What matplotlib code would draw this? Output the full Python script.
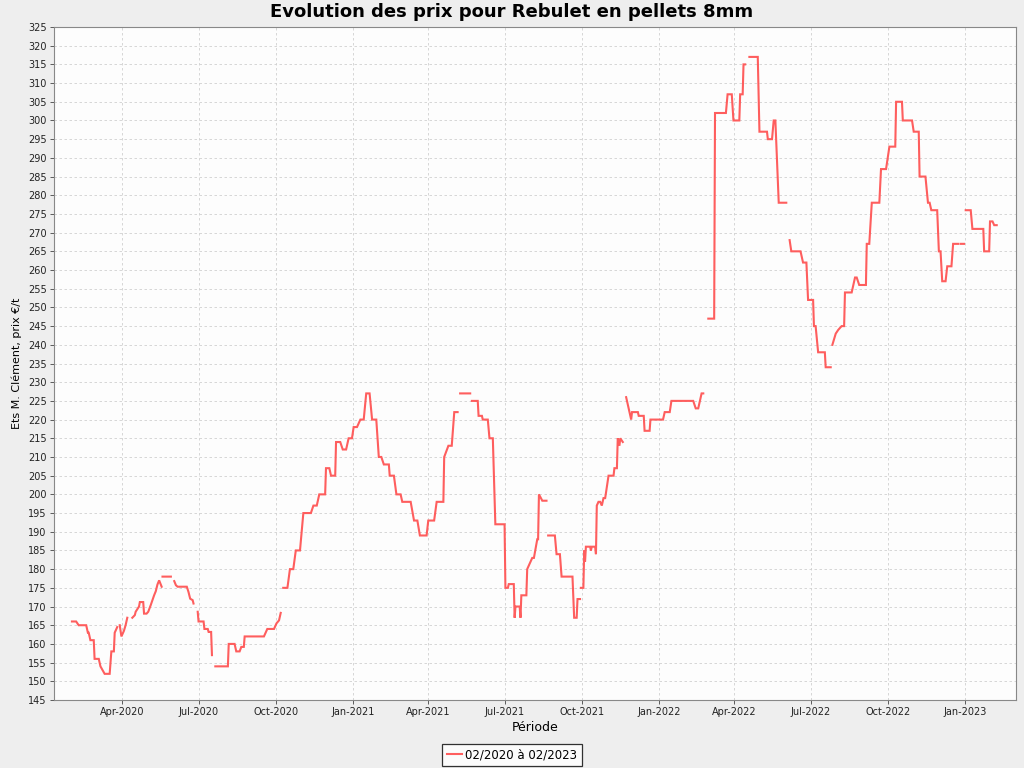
import numpy as np
import pandas as pd
import matplotlib
matplotlib.use("Agg")
import matplotlib.pyplot as plt
import matplotlib.dates as mdates

# None marks a gap in the series
dates = [
    "2020-02-01", "2020-02-06", "2020-02-09", "2020-02-18", "2020-02-20", "2020-02-21", "2020-02-23",
    "2020-02-27", "2020-02-28", "2020-03-04", "2020-03-06", "2020-03-11", "2020-03-17", "2020-03-19",
    "2020-03-22", "2020-03-23", "2020-03-26", None,
    "2020-03-29", "2020-03-31", "2020-04-03", "2020-04-05", "2020-04-07", None,
    "2020-04-13", "2020-04-16", "2020-04-17", "2020-04-21", "2020-04-22", "2020-04-26", "2020-04-27",
    "2020-04-30", "2020-05-02", "2020-05-05", "2020-05-07", "2020-05-09", "2020-05-11", "2020-05-13",
    "2020-05-15", "2020-05-18", None,
    "2020-05-19", "2020-05-29", None,
    "2020-06-02", "2020-06-04", "2020-06-06", "2020-06-17", "2020-06-19", "2020-06-21", "2020-06-24",
    "2020-06-25", None,
    "2020-06-30", "2020-07-01", "2020-07-07", "2020-07-08", "2020-07-12", "2020-07-13", "2020-07-16",
    "2020-07-17", None,
    "2020-07-21", "2020-08-05", "2020-08-06", "2020-08-13", "2020-08-15", "2020-08-19", "2020-08-21",
    "2020-08-24", "2020-08-25", "2020-09-17", "2020-09-21", "2020-09-29", "2020-10-02", "2020-10-05",
    "2020-10-07", None,
    "2020-10-10", "2020-10-15", "2020-10-18", "2020-10-22", "2020-10-25", "2020-10-30", "2020-11-01",
    "2020-11-03", "2020-11-12", "2020-11-15", "2020-11-19", "2020-11-22", "2020-11-29", "2020-11-30",
    "2020-12-04", "2020-12-06", "2020-12-11", "2020-12-12", "2020-12-17", "2020-12-20", "2020-12-24",
    "2020-12-27", "2020-12-31", "2021-01-02", "2021-01-06", "2021-01-10", "2021-01-14", "2021-01-17",
    "2021-01-21", "2021-01-24", "2021-01-29", "2021-02-01", "2021-02-04", "2021-02-07", "2021-02-13",
    "2021-02-14", "2021-02-19", "2021-02-22", "2021-02-27", "2021-03-01", "2021-03-11", "2021-03-15",
    "2021-03-19", "2021-03-22", "2021-03-30", "2021-04-01", "2021-04-08", "2021-04-11", "2021-04-19",
    "2021-04-20", "2021-04-25", "2021-04-29", "2021-05-02", "2021-05-06", None,
    "2021-05-09", "2021-05-21", None,
    "2021-05-23", "2021-05-30", "2021-05-31", "2021-06-04", "2021-06-05", "2021-06-11", "2021-06-13",
    "2021-06-17", "2021-06-20", "2021-07-01", "2021-07-02", "2021-07-05", "2021-07-06", "2021-07-12",
    "2021-07-13", "2021-07-14", "2021-07-19", "2021-07-20", "2021-07-21", "2021-07-27", "2021-07-28",
    "2021-07-30", "2021-08-03", "2021-08-05", "2021-08-07", "2021-08-09", "2021-08-10", "2021-08-11",
    "2021-08-15", "2021-08-20", None,
    "2021-08-22", "2021-08-30", "2021-09-01", "2021-09-05", "2021-09-07", "2021-09-20", "2021-09-22",
    "2021-09-25", "2021-09-26", "2021-09-29", None,
    "2021-09-30", "2021-10-03", "2021-10-04", "2021-10-05", "2021-10-06", "2021-10-11", "2021-10-12",
    "2021-10-13", "2021-10-17", "2021-10-18", "2021-10-19", "2021-10-21", "2021-10-23", "2021-10-25",
    "2021-10-27", "2021-10-29", "2021-11-02", "2021-11-08", "2021-11-09", "2021-11-12", "2021-11-13",
    "2021-11-15", "2021-11-16", "2021-11-19", None,
    "2021-11-23", "2021-11-24", "2021-11-26", "2021-11-29", "2021-11-30", "2021-12-07", "2021-12-08",
    "2021-12-14", "2021-12-15", "2021-12-21", "2021-12-22", "2022-01-06", "2022-01-08", "2022-01-14",
    "2022-01-16", "2022-02-11", "2022-02-14", "2022-02-17", "2022-02-21", "2022-02-23", None,
    "2022-03-01", "2022-03-08", "2022-03-09", "2022-03-22", "2022-03-24", "2022-03-29", "2022-03-31",
    "2022-04-07", "2022-04-08", "2022-04-11", "2022-04-12", "2022-04-14", None,
    "2022-04-19", "2022-04-29", "2022-05-01", "2022-05-10", "2022-05-11", "2022-05-16", "2022-05-18",
    "2022-05-20", "2022-05-24", "2022-06-02", None,
    "2022-06-06", "2022-06-08", "2022-06-19", "2022-06-22", "2022-06-26", "2022-06-28", "2022-07-04",
    "2022-07-05", "2022-07-07", "2022-07-10", "2022-07-18", "2022-07-19", "2022-07-25", None,
    "2022-07-27", "2022-07-31", "2022-08-03", "2022-08-07", "2022-08-10", "2022-08-11", "2022-08-19",
    "2022-08-21", "2022-08-23", "2022-08-25", "2022-08-28", "2022-09-05", "2022-09-06", "2022-09-09",
    "2022-09-12", "2022-09-21", "2022-09-23", "2022-09-29", "2022-10-03", "2022-10-10", "2022-10-11",
    "2022-10-18", "2022-10-19", "2022-10-30", "2022-11-01", "2022-11-07", "2022-11-08", "2022-11-15",
    "2022-11-18", "2022-11-20", "2022-11-22", "2022-11-29", "2022-12-01", "2022-12-03", "2022-12-05",
    "2022-12-09", "2022-12-11", "2022-12-16", "2022-12-18", "2022-12-24", None,
    "2022-12-27", "2022-12-31", None,
    "2023-01-02", "2023-01-08", "2023-01-10", "2023-01-23", "2023-01-24", "2023-01-30", "2023-01-31",
    "2023-02-03", "2023-02-05", "2023-02-08",
]

prices = [
    166, 166, 165, 165, 163, 163, 161, 161, 156, 156, 154, 152, 152, 158, 158, 163, 164.5, None,
    165, 162, 163.5, 165, 167, None,
    167, 167.7, 168.6, 170, 171.2, 171.2, 168.1, 168.1, 168.6, 170.4, 171.7, 173, 174.1, 175.9,
    177, 175.3, None,
    178, 178, None,
    176.8, 175.7, 175.3, 175.3, 173.9, 172.1, 171.7, 170.8, None,
    168.6, 166, 166, 164, 164, 163.2, 163.2, 157, None,
    154, 154, 160, 160, 158, 158, 159.2, 159.2, 162, 162, 164, 164, 165.5, 166.3, 168.3, None,
    175, 175, 180, 180, 185, 185, 190, 195, 195, 197, 197, 200, 200, 207, 207, 205, 205, 214, 214,
    212, 212, 215, 215, 218, 218, 220, 220, 227, 227, 220, 220, 210, 210, 208, 208, 205, 205, 200,
    200, 198, 198, 193, 193, 189, 189, 193, 193, 198, 198, 210, 213, 213, 222, 222, None,
    227, 227, None,
    225, 225, 221, 221, 220, 220, 215, 215, 192, 192, 175, 175, 176, 176, 167, 170, 170, 167, 173,
    173, 180, 181, 183, 183, 185.5, 188, 188, 200, 198.3, 198.3, None,
    189, 189, 184, 184, 178, 178, 167, 167, 172, 172, None,
    175, 175, 185, 182, 186, 186, 185, 186, 186, 184, 197, 198, 198, 197, 199, 199, 205, 205, 207,
    207, 215, 213, 215, 214, None,
    226, 225, 223, 220, 222, 222, 221, 221, 217, 217, 220, 220, 222, 222, 225, 225, 223, 223, 227,
    227, None,
    247, 247, 302, 302, 307, 307, 300, 300, 307, 307, 315, 315, None,
    317, 317, 297, 297, 295, 295, 300, 300, 278, 278, None,
    268, 265, 265, 262, 262, 252, 252, 245, 245, 238, 238, 234, 234, None,
    240, 243, 244, 245, 245, 254, 254, 256, 258, 258, 256, 256, 267, 267, 278, 278, 287, 287, 293,
    293, 305, 305, 300, 300, 297, 297, 285, 285, 278, 278, 276, 276, 265, 265, 257, 257, 261, 261,
    267, 267, None,
    267, 267, None,
    276, 276, 271, 271, 265, 265, 273, 273, 272, 272,
]

y_ticks = list(range(145, 330, 5))
title = "Evolution des prix pour Rebulet en pellets 8mm"
x_label = "Période"
y_label = "Ets M. Clément, prix €/t"
series_label = "02/2020 à 02/2023"

# build series: gaps get the previous date and a NaN value
d = pd.Series(pd.to_datetime(dates)).ffill()
v = np.array([np.nan if p is None else p for p in prices], dtype=float)

plt.rcParams["font.family"] = ["DejaVu Sans"]

fig = plt.figure(figsize=(10.24, 7.68), dpi=100, facecolor="#EEEEEE")
ax = fig.add_axes([53.5 / 1024, 1 - 700 / 768, (1016 - 53.5) / 1024, (700 - 27) / 768])
ax.set_facecolor("#FDFDFD")

ax.plot(d, v, color="#FF5555", lw=1.5, alpha=0.95, solid_joinstyle="miter", label=series_label)

ax.set_ylim(145, 325)
ax.set_yticks(y_ticks)
ax.set_xlim(pd.Timestamp("2020-01-10"), pd.Timestamp("2023-03-03"))
ax.xaxis.set_major_locator(mdates.MonthLocator(bymonth=[1, 4, 7, 10]))
ax.xaxis.set_major_formatter(mdates.DateFormatter("%b-%Y"))

ax.grid(True, color="#D0D0D0", linestyle=(0, (3, 3)), linewidth=0.6)
ax.set_axisbelow(True)
for s in ax.spines.values():
    s.set_color("#888888")
    s.set_linewidth(0.8)
ax.tick_params(axis="both", labelsize=7, colors="#444444", length=3, width=0.6, pad=2)
for lbl in ax.get_xticklabels() + ax.get_yticklabels():
    lbl.set_color("#222222")

fig.text(0.5, 1 - 12 / 768, title, fontsize=13, fontweight="bold", ha="center", va="center")
ax.set_xlabel(x_label, fontsize=9, labelpad=3)
ax.set_ylabel(y_label, fontsize=8, labelpad=4)

leg = fig.legend(loc="center", bbox_to_anchor=(512 / 1024, 1 - 755 / 768), frameon=True,
                 fancybox=False, fontsize=8.5, handlelength=1.3, handletextpad=0.3,
                 borderpad=0.35, borderaxespad=0)
leg.get_frame().set_edgecolor("black")
leg.get_frame().set_linewidth(0.9)
leg.get_frame().set_facecolor("white")

fig.savefig("out.png", dpi=100, facecolor=fig.get_facecolor())
